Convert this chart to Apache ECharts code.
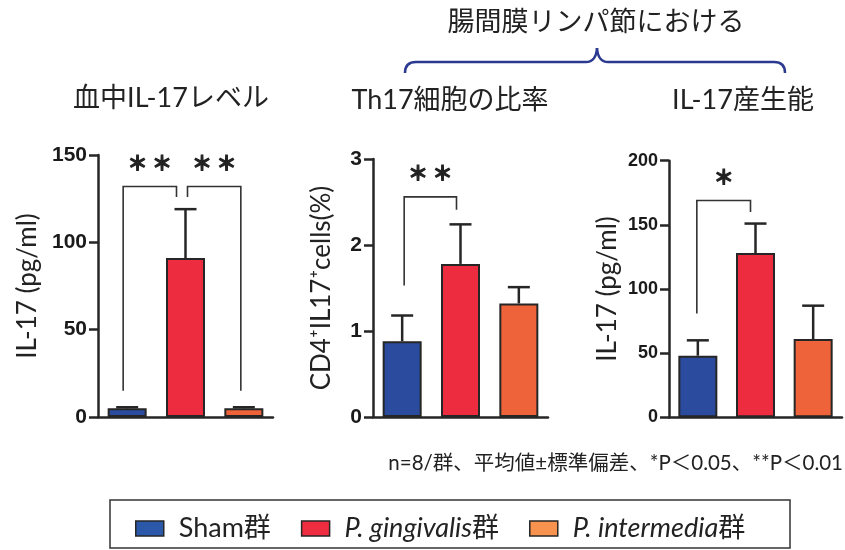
<!DOCTYPE html>
<html>
<head>
<meta charset="utf-8">
<script src="https://cdn.jsdelivr.net/npm/echarts@6/dist/echarts.min.js"></script>
<style>
  html, body { margin: 0; padding: 0; background: #fff; }
  #chart { width: 845px; height: 550px; }
</style>
</head>
<body>
<div id="chart"></div>
<script>
// Groups
const groups = ['Sham群', 'P. gingivalis群', 'P. intermedia群'];

// Serum IL-17 (pg/ml): mean and SD
const serumIL17 = [5, 91, 5];
const serumIL17Sd = [0.6, 28, 0.6];

// Th17 ratio in mesenteric lymph nodes (CD4+IL17+ cells, %)
const th17Ratio = [0.88, 1.78, 1.32];
const th17RatioSd = [0.30, 0.46, 0.19];

// IL-17 production in mesenteric lymph nodes (pg/ml)
const mlnIL17 = [48, 128, 61];
const mlnIL17Sd = [12, 23, 26];

// Axis ticks
const serumTicks = [0, 50, 100, 150];
const th17Ticks = [0, 1, 2, 3];
const mlnTicks = [0, 50, 100, 150, 200];

// Significance brackets: [from group, to group, left leg bottom, top, right leg bottom]
const serumBrackets = [[0, 1, 15, 132, 126], [1, 2, 126, 132, 15]];
const th17Brackets = [[0, 1, 1.53, 2.56, 2.41]];
const mlnBrackets = [[0, 1, 81, 169, 160]];
const serumStars = ['＊ ＊', '＊ ＊'];
const th17Stars = ['＊ ＊'];
const mlnStars = ['＊'];

// Titles and notes
const headTitle = '腸間膜リンパ節における';
const panelTitles = ['血中IL-17レベル', 'Th17細胞の比率', 'IL-17産生能'];
const yNames = ['IL-17 (pg/ml)', 'CD4⁺IL17⁺cells(%)', 'IL-17 (pg/ml)'];
const footNote = 'n=8/群、平均値±標準偏差、*P＜0.05、**P＜0.01';

const barColors = ['#2b4c9e', '#ed2c40', '#ef633a'];
const legendColors = ['#2b58a8', '#ee2e40', '#f7924f'];
const ink = '#262626';
const latin = "Lato, 'Noto Sans CJK JP', sans-serif";

const chart = echarts.init(document.getElementById('chart'), null, { renderer: 'canvas' });

const panels = [
  { values: serumIL17, sd: serumIL17Sd, ticks: serumTicks, brackets: serumBrackets, stars: serumStars,
    grid: { left: 98, top: 155, width: 175, height: 262 }, nameGap: 57, tickFont: 21,
    nudges: [[-4, -9], [2, -3]] },
  { values: th17Ratio, sd: th17RatioSd, ticks: th17Ticks, brackets: th17Brackets, stars: th17Stars,
    grid: { left: 373, top: 159, width: 175, height: 258 }, nameGap: 38, tickFont: 21,
    nudges: [[2, -4]] },
  { values: mlnIL17, sd: mlnIL17Sd, ticks: mlnTicks, brackets: mlnBrackets, stars: mlnStars,
    grid: { left: 669, top: 160.7, width: 173, height: 256.6 }, nameGap: 48, tickFont: 18,
    nudges: [[-1, -5]] }
];

const grid = [], xAxis = [], yAxis = [], series = [];

panels.forEach((p, k) => {
  grid.push(Object.assign({ containLabel: false }, p.grid));
  xAxis.push({
    type: 'category', gridIndex: k, data: groups,
    axisLine: { lineStyle: { color: ink, width: 2.5 } },
    axisTick: { show: false }, axisLabel: { show: false }
  });
  const step = p.ticks[1] - p.ticks[0];
  yAxis.push({
    type: 'value', gridIndex: k, min: p.ticks[0], max: p.ticks[p.ticks.length - 1], interval: step,
    name: yNames[k], nameLocation: 'middle', nameGap: p.nameGap,
    nameTextStyle: { fontSize: 26, color: '#222', fontFamily: latin },
    axisLine: { show: true, lineStyle: { color: ink, width: 2.5 } },
    axisTick: { show: true, length: 9, lineStyle: { color: ink, width: 2.5 } },
    axisLabel: { fontSize: p.tickFont, fontWeight: 'bold', color: '#1a1a1a', margin: 11,
      fontFamily: "'Liberation Sans', Arial, sans-serif" },
    splitLine: { show: false }
  });

  // one bar series per group so the legend can address each group
  groups.forEach((g, i) => {
    series.push({
      type: 'bar', name: g, xAxisIndex: k, yAxisIndex: k,
      barWidth: 39, barGap: '-100%',
      data: groups.map((_, j) => (j === i ? p.values[i] : '-')),
      itemStyle: { color: barColors[i], borderColor: ink, borderWidth: 2 },
      z: 2
    });
  });

  // upper error bars
  series.push({
    type: 'custom', xAxisIndex: k, yAxisIndex: k, z: 3,
    data: p.values.map((v, i) => [i, v, p.sd[i]]),
    renderItem: (params, api) => {
      const x = api.value(0), v = api.value(1), sd = api.value(2);
      const base = api.coord([x, v]);
      const top = api.coord([x, v + sd]);
      const half = 11;
      const st = { stroke: ink, lineWidth: 2.5 };
      return {
        type: 'group', children: [
          { type: 'line', shape: { x1: base[0], y1: base[1], x2: top[0], y2: top[1] }, style: st },
          { type: 'line', shape: { x1: top[0] - half, y1: top[1], x2: top[0] + half, y2: top[1] }, style: st }
        ]
      };
    }
  });

  // significance brackets with stars
  series.push({
    type: 'custom', xAxisIndex: k, yAxisIndex: k, z: 4,
    encode: { x: [0, 1], y: [2, 3, 4] },
    data: p.brackets,
    renderItem: (params, api) => {
      const n = p.nudges[params.dataIndex];
      const xl = api.coord([api.value(0), 0])[0] + n[0];
      const xr = api.coord([api.value(1), 0])[0] + n[1];
      const yl = api.coord([api.value(0), api.value(2)])[1];
      const yt = api.coord([api.value(0), api.value(3)])[1];
      const yr = api.coord([api.value(0), api.value(4)])[1];
      return {
        type: 'group', children: [
          { type: 'polyline', shape: { points: [[xl, yl], [xl, yt], [xr, yt], [xr, yr]] },
            style: { stroke: '#333', lineWidth: 1.6, fill: null } },
          { type: 'text', x: (xl + xr) / 2, y: yt - 23,
            style: { text: p.stars[params.dataIndex], fontSize: 20, fontWeight: 'bold',
              fontFamily: "'Noto Sans CJK JP', sans-serif", fill: '#222',
              stroke: '#222', lineWidth: 1.2,
              align: 'center', verticalAlign: 'middle' } }
        ]
      };
    }
  });
});

const titleStyle = { fontSize: 27, fontFamily: latin, fill: '#222', align: 'center', verticalAlign: 'middle' };
const braceStyle = { stroke: '#2b3990', lineWidth: 2.5, fill: null };

const option = {
  animation: false,
  backgroundColor: '#fff',
  grid, xAxis, yAxis, series,
  legend: {
    left: 130, top: 510, itemWidth: 28, itemHeight: 15, itemGap: 30,
    icon: 'rect', selectedMode: false,
    data: groups.map((g, i) => ({ name: g, itemStyle: { color: legendColors[i], borderColor: ink, borderWidth: 1.5 } })),
    formatter: name => (name === groups[0] ? '{n|' + name + '}' : '{i|' + name.replace('群', '') + '}{n|群}'),
    textStyle: {
      padding: [0, 0, 0, 10],
      rich: {
        n: { fontSize: 27, fontFamily: latin, color: '#222' },
        i: { fontSize: 27, fontFamily: latin, fontStyle: 'italic', color: '#222' }
      }
    }
  },
  graphic: [
    { type: 'text', x: 596, y: 22, style: Object.assign({ text: headTitle }, titleStyle) },
    { type: 'text', x: 171, y: 98, style: Object.assign({ text: panelTitles[0] }, titleStyle) },
    { type: 'text', x: 450, y: 100, style: Object.assign({ text: panelTitles[1] }, titleStyle) },
    { type: 'text', x: 743, y: 100, style: Object.assign({ text: panelTitles[2] }, titleStyle) },
    // curly brace grouping the two lymph-node panels
    { type: 'bezierCurve', shape: { x1: 405, y1: 73, x2: 416, y2: 62, cpx1: 405, cpy1: 62 }, style: braceStyle },
    { type: 'line', shape: { x1: 416, y1: 62, x2: 586, y2: 62 }, style: braceStyle },
    { type: 'bezierCurve', shape: { x1: 586, y1: 62, x2: 597, y2: 48, cpx1: 596, cpy1: 62 }, style: braceStyle },
    { type: 'bezierCurve', shape: { x1: 597, y1: 48, x2: 608, y2: 62, cpx1: 598, cpy1: 62 }, style: braceStyle },
    { type: 'line', shape: { x1: 608, y1: 62, x2: 774, y2: 62 }, style: braceStyle },
    { type: 'bezierCurve', shape: { x1: 774, y1: 62, x2: 785, y2: 73, cpx1: 785, cpy1: 62 }, style: braceStyle },
    { type: 'text', x: 843, y: 463,
      style: { text: footNote, fontSize: 20.5, fontFamily: latin, fill: '#222', align: 'right', verticalAlign: 'middle' } },
    { type: 'rect', shape: { x: 110, y: 500, width: 680, height: 48 },
      style: { stroke: '#333', lineWidth: 1.5, fill: null } }
  ]
};

chart.setOption(option);
</script>
</body>
</html>
